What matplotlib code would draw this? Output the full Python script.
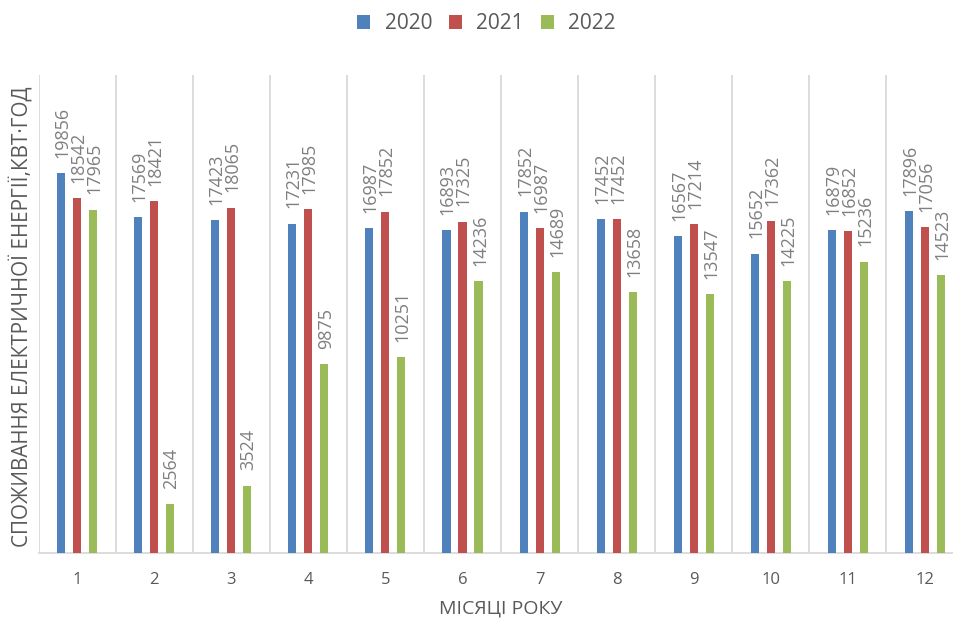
import matplotlib
matplotlib.use("Agg")
import matplotlib.pyplot as plt
import numpy as np

plt.rcParams['font.family'] = ['Open Sans', 'DejaVu Sans']

months = ['1', '2', '3', '4', '5', '6', '7', '8', '9', '10', '11', '12']
years = ['2020', '2021', '2022']
v2020 = [19856, 17569, 17423, 17231, 16987, 16893, 17852, 17452, 16567, 15652, 16879, 17896]
v2021 = [18542, 18421, 18065, 17985, 17852, 17325, 16987, 17452, 17214, 17362, 16852, 17056]
v2022 = [17965, 2564, 3524, 9875, 10251, 14236, 14689, 13658, 13547, 14225, 15236, 14523]
series = [v2020, v2021, v2022]
colors = ['#4F81BD', '#C0504D', '#9BBB59']

fig = plt.figure(figsize=(9.54, 6.28), dpi=100)
ax = fig.add_axes([0.0404, 0.1194, 0.9696, 0.7612])

x = np.arange(len(months))
w = 0.105
offs = [-0.208, 0.0, 0.208]
label_col = '#7F7F7F'
for vals, c, o, yr in zip(series, colors, offs, years):
    ax.bar(x + o, vals, width=w, color=c, label=yr, zorder=3)
    for xi, v in zip(x + o, vals):
        ax.annotate(str(v), (xi, v), xytext=(1, 11), textcoords='offset points',
                    rotation=90, ha='center', va='bottom', fontsize=13,
                    color=label_col)

ax.set_xlim(-0.5, len(months) - 0.5)
ax.set_ylim(0, 25000)
ax.set_yticks([])
ax.set_xticks(x)
ax.set_xticklabels(months, fontsize=12, color='#595959')
ax.set_xticks(np.arange(-0.5, len(months), 1.0), minor=True)
ax.tick_params(axis='x', which='major', length=0, pad=14)
ax.tick_params(axis='x', which='minor', length=0)
ax.grid(axis='x', which='minor', color='#D9D9D9', linewidth=1.3, zorder=0)
ax.grid(axis='x', which='major', visible=False)
for s in ['top', 'right', 'left']:
    ax.spines[s].set_visible(False)
ax.spines['bottom'].set_color('#D9D9D9')
ax.spines['bottom'].set_linewidth(1.3)

ax.set_xlabel('МІСЯЦІ РОКУ', fontsize=14, color='#595959', labelpad=8)
fig.text(0.023, 0.496, 'СПОЖИВАННЯ ЕЛЕКТРИЧНОЇ ЕНЕРГІЇ,КВТ·ГОД', rotation=90,
         ha='center', va='center', fontsize=14.9, color='#595959')

leg = fig.legend(loc='center', bbox_to_anchor=(0.51, 0.962), ncol=3, frameon=False,
                 fontsize=15, handlelength=0.62, handleheight=0.62, columnspacing=0.8,
                 handletextpad=0.7)
for t in leg.get_texts():
    t.set_color('#595959')

fig.savefig('out.png', dpi=100)
